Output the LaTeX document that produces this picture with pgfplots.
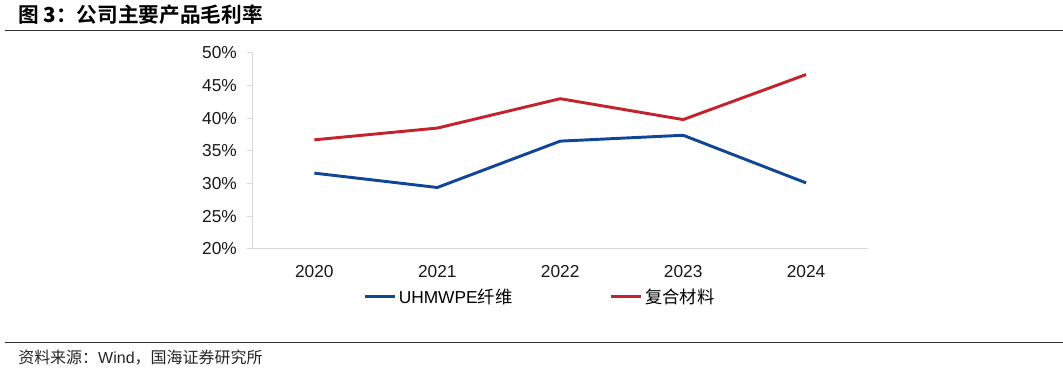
\documentclass[border=0pt]{standalone}
\usepackage{pgfplots}
\pgfplotsset{compat=1.18}
\usepackage{fontspec}
\setmainfont{Liberation Sans}
\newfontfamily\cjk{Noto Sans CJK SC}
\newfontfamily\cjkb{Noto Sans CJK SC Bold}
\definecolor{sblue}{RGB}{16,70,150}
\definecolor{sred}{RGB}{195,35,45}
\definecolor{axgray}{RGB}{217,217,217}
\begin{document}
\begin{tikzpicture}[x=0.75pt,y=0.75pt]
\path (0,0) rectangle (1063,375);
% title
\node[anchor=base west,inner sep=0pt,font=\fontsize{15.5pt}{17pt}\selectfont] at (18,352) {\cjkb 图 \textbf{3}：公司主要产品毛利率};
\draw[line width=0.75pt,black!80] (5,344) -- (1063,344);
% source
\draw[line width=0.75pt,black!80] (5,32) -- (1063,32);
\node[anchor=base west,inner sep=0pt,font=\fontsize{12pt}{14pt}\selectfont,text=black!85] at (18,11) {\cjk 资料来源：\normalfont Wind\cjk ，国海证券研究所};
\begin{axis}[
  at={(189.75pt,94.5pt)}, anchor=south west,
  scale only axis, width=461.25pt, height=147pt,
  xmin=-0.5, xmax=4.5, ymin=20, ymax=50,
  xtick={0,1,2,3,4}, xticklabels={2020,2021,2022,2023,2024},
  ytick={20,25,30,35,40,45,50},
  yticklabel={\pgfmathprintnumber{\tick}\%},
  /pgf/number format/assume math mode=true,
  tick label style={font=\fontsize{13pt}{15pt}\selectfont, text=black!90},
  axis x line*=bottom, axis y line*=left,
  axis line style={axgray, line width=0.75pt},
  x axis line style={-}, y axis line style={-},
  xtick style={draw=none},
  ytick style={axgray, line width=0.75pt},
  tick align=outside, major tick length=4.5pt,
  xticklabel style={yshift=-4pt},
  yticklabel style={xshift=-4pt},
  legend style={at={(0.179,-0.245)}, anchor=west, draw=none, fill=none,
    inner sep=0pt, font=\fontsize{13pt}{15pt}\selectfont, legend columns=2,
    /tikz/every even column/.append style={column sep=71pt}},
  legend cell align=left,
  legend image code/.code={\draw[#1] (0pt,0pt) -- (22.5pt,0pt);},
]
\addplot[sblue, line width=2.2pt, line join=round] coordinates {(0,31.6) (1,29.4) (2,36.5) (3,37.4) (4,30.1)};
\addlegendentry{UHMWPE{\cjk 纤维}}
\addplot[sred, line width=2.2pt, line join=round] coordinates {(0,36.7) (1,38.5) (2,43.0) (3,39.8) (4,46.7)};
\addlegendentry{{\cjk 复合材料}}
\end{axis}
\end{tikzpicture}
\end{document}
